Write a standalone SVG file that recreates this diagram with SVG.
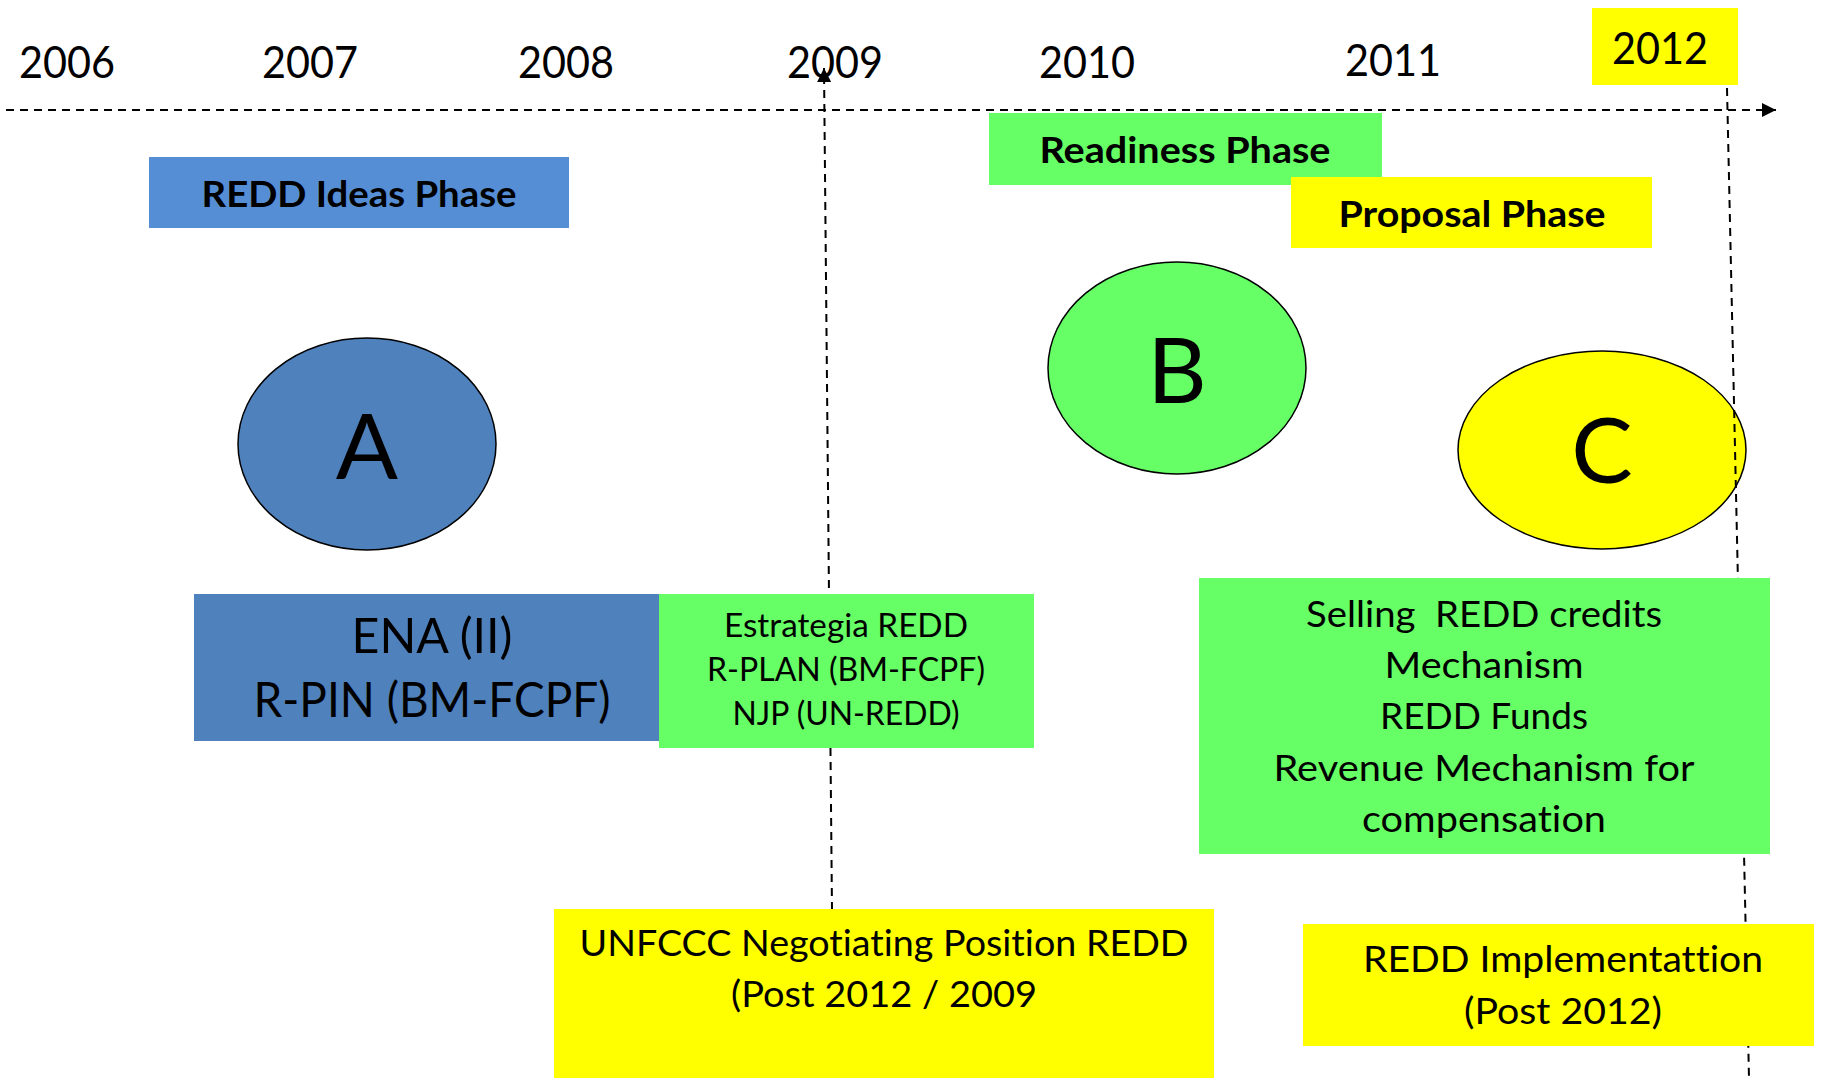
<svg xmlns="http://www.w3.org/2000/svg" width="1822" height="1078" viewBox="0 0 1822 1078">
<style>
text{font-family:Lato,"Open Sans","Liberation Sans",sans-serif;fill:#000;text-anchor:middle;font-variant-ligatures:none;font-feature-settings:"liga" 0,"clig" 0}
.yr{font-size:44px}
.ph{font-size:37px;font-weight:bold}
.big{font-size:92px}
.t48{font-size:48px}
.t32{font-size:32px}
.t36{font-size:36px}
.dash{stroke:#000;stroke-width:2;stroke-dasharray:8 6;fill:none}
.ell{stroke:#000;stroke-width:1.5}
</style>
<defs>
<marker id="arr" viewBox="0 0 10 10" refX="10" refY="5" markerWidth="7" markerHeight="7" markerUnits="strokeWidth" orient="auto">
<path d="M0,0 L10,5 L0,10 z" fill="#000"/>
</marker>
<marker id="arrs" viewBox="0 0 10 10" refX="10" refY="5" markerWidth="6" markerHeight="6" markerUnits="strokeWidth" orient="auto">
<path d="M0,0 L10,5 L0,10 z" fill="#000"/>
</marker>
</defs>
<rect width="1822" height="1078" fill="#fff"/>

<g id="years">
<text class="yr" x="67" y="78" textLength="96" lengthAdjust="spacingAndGlyphs">2006</text>
<text class="yr" x="310" y="78" textLength="96" lengthAdjust="spacingAndGlyphs">2007</text>
<text class="yr" x="566" y="78" textLength="96" lengthAdjust="spacingAndGlyphs">2008</text>
<text class="yr" x="835" y="78" textLength="96" lengthAdjust="spacingAndGlyphs">2009</text>
<text class="yr" x="1087" y="78" textLength="96" lengthAdjust="spacingAndGlyphs">2010</text>
<text class="yr" x="1393" y="76" textLength="96" lengthAdjust="spacingAndGlyphs">2011</text>
</g>
<g id="y2012">
<rect x="1592" y="8" width="146" height="77" fill="#FFFF00"/>
<text class="yr" x="1660" y="64" textLength="96" lengthAdjust="spacingAndGlyphs">2012</text>
</g>

<g id="nodeA">
<ellipse class="ell" cx="367" cy="444" rx="129" ry="106" fill="#4F81BD"/>
<text class="big" x="367" y="479">A</text>
</g>
<g id="nodeB">
<ellipse class="ell" cx="1177" cy="368" rx="129" ry="106" fill="#66FF66"/>
<text class="big" x="1177" y="403">B</text>
</g>
<g id="nodeC">
<ellipse class="ell" cx="1602" cy="450" rx="144" ry="99" fill="#FFFF00"/>
<text class="big" x="1602" y="483">C</text>
</g>

<g id="connectors">
<line class="dash" x1="6" y1="110" x2="1776" y2="110" marker-end="url(#arr)"/>
<line class="dash" x1="832" y1="910" x2="824" y2="68" marker-end="url(#arr)"/>
<line class="dash" x1="1727" y1="88" x2="1749" y2="1078"/>
</g>

<g id="ideas">
<rect x="149" y="157" width="420" height="71" fill="#558ED5"/>
<text class="ph" x="359" y="207" textLength="315" lengthAdjust="spacingAndGlyphs">REDD Ideas Phase</text>
</g>
<g id="readiness">
<rect x="989" y="113" width="393" height="72" fill="#66FF66"/>
<text class="ph" x="1185" y="163" textLength="291" lengthAdjust="spacingAndGlyphs">Readiness Phase</text>
</g>
<g id="proposal">
<rect x="1291" y="177" width="361" height="71" fill="#FFFF00"/>
<text class="ph" x="1472" y="227" textLength="267" lengthAdjust="spacingAndGlyphs">Proposal Phase</text>
</g>

<g id="ena">
<rect x="194" y="594" width="465" height="147" fill="#4F81BD"/>
<text class="t48" x="432" y="653" textLength="161" lengthAdjust="spacingAndGlyphs">ENA (II)</text>
<text class="t48" x="432" y="717" textLength="357" lengthAdjust="spacingAndGlyphs">R-PIN (BM-FCPF)</text>
</g>
<g id="estrategia">
<rect x="659" y="594" width="375" height="154" fill="#66FF66"/>
<text class="t32" x="846" y="637" textLength="244" lengthAdjust="spacingAndGlyphs">Estrategia REDD</text>
<text class="t32" x="846" y="681" textLength="278" lengthAdjust="spacingAndGlyphs">R-PLAN (BM-FCPF)</text>
<text class="t32" x="846" y="725" textLength="227" lengthAdjust="spacingAndGlyphs">NJP (UN-REDD)</text>
</g>
<g id="selling">
<rect x="1199" y="578" width="571" height="276" fill="#66FF66"/>
<text class="t36" x="1484" y="627" textLength="356" lengthAdjust="spacingAndGlyphs" xml:space="preserve">Selling  REDD credits</text>
<text class="t36" x="1484" y="678" textLength="199" lengthAdjust="spacingAndGlyphs">Mechanism</text>
<text class="t36" x="1484" y="729" textLength="208" lengthAdjust="spacingAndGlyphs">REDD Funds</text>
<text class="t36" x="1484" y="781" textLength="421" lengthAdjust="spacingAndGlyphs">Revenue Mechanism for</text>
<text class="t36" x="1484" y="832" textLength="244" lengthAdjust="spacingAndGlyphs">compensation</text>
</g>
<g id="unfccc">
<rect x="554" y="909" width="660" height="169" fill="#FFFF00"/>
<text class="t36" x="884" y="956" textLength="609" lengthAdjust="spacingAndGlyphs">UNFCCC Negotiating Position REDD</text>
<text class="t36" x="884" y="1007" textLength="306" lengthAdjust="spacingAndGlyphs">(Post 2012 / 2009</text>
</g>
<g id="implementation">
<rect x="1303" y="924" width="511" height="122" fill="#FFFF00"/>
<text class="t36" x="1563" y="972" textLength="400" lengthAdjust="spacingAndGlyphs">REDD Implementattion</text>
<text class="t36" x="1563" y="1024" textLength="198" lengthAdjust="spacingAndGlyphs">(Post 2012)</text>
</g>
</svg>
